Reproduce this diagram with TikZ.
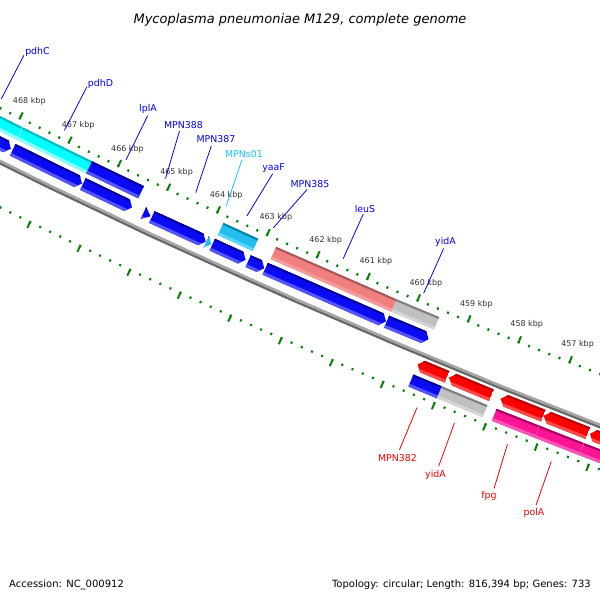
\documentclass[tikz,border=0pt]{standalone}
\usepackage{fontspec}
\setmainfont{DejaVu Sans}

% colours of the bars: main, top edge, bottom edge
\definecolor{bluemain}{RGB}{10,10,245}
\definecolor{bluetop}{RGB}{0,0,150}
\definecolor{bluebot}{RGB}{85,85,255}
\definecolor{cyanmain}{RGB}{0,255,255}
\definecolor{cyantop}{RGB}{0,185,195}
\definecolor{cyanbot}{RGB}{140,255,255}
\definecolor{skymain}{RGB}{35,190,235}
\definecolor{skytop}{RGB}{0,130,170}
\definecolor{skybot}{RGB}{90,215,255}
\definecolor{salmmain}{RGB}{240,128,128}
\definecolor{salmtop}{RGB}{165,90,90}
\definecolor{salmbot}{RGB}{246,155,155}
\definecolor{greymain}{RGB}{192,192,192}
\definecolor{greytop}{RGB}{125,125,125}
\definecolor{greybot}{RGB}{212,212,212}
\definecolor{redmain}{RGB}{255,0,0}
\definecolor{redtop}{RGB}{185,0,0}
\definecolor{redbot}{RGB}{255,75,75}
\definecolor{pinkmain}{RGB}{255,20,147}
\definecolor{pinktop}{RGB}{165,0,100}
\definecolor{pinkbot}{RGB}{255,85,185}
\definecolor{bblight}{RGB}{165,165,165}
\definecolor{bbdark}{RGB}{105,105,105}
\definecolor{tickgreen}{RGB}{10,130,10}
\definecolor{lblblue}{RGB}{0,0,235}
\definecolor{lblsky}{RGB}{20,195,255}
\definecolor{lblred}{RGB}{240,0,0}

% bars: colour, p1, p2 (kbp), r1, r2 (from the centre)
\newcommand{\flatbar}[5]{%
  \fill[#1main] ({ga(#2)}:#4) -- ({ga(#3)}:#4) -- ({ga(#3)}:#5) -- ({ga(#2)}:#5) -- cycle;
  \fill[#1top] ({ga(#2)}:#4) -- ({ga(#3)}:#4) -- ({ga(#3)}:{#4+2}) -- ({ga(#2)}:{#4+2}) -- cycle;
  \fill[#1bot] ({ga(#2)}:{#5-3}) -- ({ga(#3)}:{#5-3}) -- ({ga(#3)}:#5) -- ({ga(#2)}:#5) -- cycle;
}
\newcommand{\fwdarrow}[5]{% tip at p2
  \begin{scope}
    \clip ({ga(#2)}:#4) -- ({ga(#3+0.1)}:#4) -- ({ga(#3)}:{(#4+#5)/2}) -- ({ga(#3+0.1)}:#5) -- ({ga(#2)}:#5) -- cycle;
    \flatbar{#1}{#2}{#3}{#4}{#5}
  \end{scope}
}
\newcommand{\fwdtip}[5]{% head only
  \begin{scope}
    \clip ({ga(#2)}:#4) -- ({ga(#3)}:{(#4+#5)/2}) -- ({ga(#2)}:#5) -- cycle;
    \flatbar{#1}{#2}{#3}{#4}{#5}
  \end{scope}
}
\newcommand{\revarrow}[5]{% tip at p1
  \begin{scope}
    \clip ({ga(#2)}:{(#4+#5)/2}) -- ({ga(#2-0.1)}:#4) -- ({ga(#3)}:#4) -- ({ga(#3)}:#5) -- ({ga(#2-0.1)}:#5) -- cycle;
    \flatbar{#1}{#2}{#3}{#4}{#5}
  \end{scope}
}

\tikzset{
  minortick/.style={tickgreen, line width=2},
  majortick/.style={tickgreen, line width=2},
  kbplbl/.style={font=\fontsize{8}{9}\selectfont, text=black!80, inner sep=0},
  genelbl/.style={font=\fontsize{9.4}{11}\selectfont, inner sep=0, anchor=base},
  lead/.style={line width=0.8},
}

\begin{document}
\begin{tikzpicture}[x=1pt, y=1pt, declare function={ga(\p)=-114.1658-0.440963*(\p-463);}]
  \useasboundingbox (0, 0) rectangle (600, -600);
  \fill[white] (0, 0) rectangle (600, -600);

  \begin{scope}
    \clip (0, 0) rectangle (600, -600);
    \begin{scope}[shift={(3176, 6248)}] % centre of the genome circle
      % tick rings
      \foreach \i in {2270,...,2352} {
        \draw[minortick] ({ga(\i/5)}:7104.6) -- ({ga(\i/5)}:7107);
        \draw[minortick] ({ga(\i/5)}:7193.5) -- ({ga(\i/5)}:7195.8);
      }
      \foreach \k in {454,...,470} {
        \draw[majortick] ({ga(\k)}:7099.5) -- ({ga(\k)}:7107);
        \draw[majortick] ({ga(\k)}:7193.5) -- ({ga(\k)}:7201);
      }
      \foreach \k in {457,...,468}
        \node[kbplbl, xshift=1pt] (kbp\k) at ({ga(\k)}:7087) {\k\ kbp};

      % backbone
      \draw[bbdark, line width=2.4] plot[domain=454:471, samples=18] ({ga(\x)}:7155.3);
      \draw[bblight, line width=2.3] plot[domain=454:471, samples=18] ({ga(\x)}:7152.9);

      % inner strand, coloured track
      \flatbar{cyan}{469.6}{467.88}{7113}{7126.5}
      \flatbar{cyan}{467.88}{466.47}{7113}{7126.5}
      \draw[cyanbot, line width=0.6] ({ga(467.88)}:7113) -- ({ga(467.88)}:7126.5);
      \flatbar{blue}{466.47}{465.42}{7113}{7126.5}
      \flatbar{sky}{463.82}{463.12}{7113}{7126.5}
      \flatbar{salm}{462.76}{460.36}{7113}{7126.5}
      \flatbar{grey}{460.36}{459.52}{7113}{7126.5}

      % inner strand, arrows
      \fwdarrow{blue}{469.6}{467.90}{7131}{7144}
      \fwdarrow{blue}{467.86}{466.46}{7131}{7144}
      \fwdarrow{blue}{466.44}{465.45}{7131}{7144}
      \fwdtip{blue}{465.22}{465.07}{7131}{7144}
      \fwdarrow{blue}{465.05}{463.97}{7131}{7144}
      \fwdtip{sky}{463.96}{463.86}{7131}{7144}
      \fwdarrow{blue}{463.84}{463.17}{7131}{7144}
      \fwdarrow{blue}{463.12}{462.80}{7131}{7144}
      \fwdarrow{blue}{462.78}{460.38}{7131}{7144}
      \fwdarrow{blue}{460.37}{459.54}{7131}{7144}

      % outer strand, arrows
      \revarrow{red}{459.55}{458.97}{7159}{7171.5}
      \revarrow{red}{458.93}{458.10}{7159}{7171.5}
      \revarrow{red}{457.92}{457.09}{7159}{7171.5}
      \revarrow{red}{457.08}{456.22}{7159}{7171.5}
      \revarrow{red}{456.18}{454.5}{7159}{7171.5}

      % outer strand, coloured track
      \flatbar{blue}{459.55}{458.99}{7176}{7189}
      \flatbar{grey}{458.99}{458.10}{7176}{7189}
      \flatbar{pink}{457.92}{457.09}{7176}{7189}
      \flatbar{pink}{457.09}{456.22}{7176}{7189}
      \flatbar{pink}{456.22}{454.5}{7176}{7189}
      \draw[pinkbot, line width=0.6] ({ga(457.09)}:7176) -- ({ga(457.09)}:7189);
      \draw[pinkbot, line width=0.6] ({ga(456.22)}:7176) -- ({ga(456.22)}:7189);

      % leader ends, inner strand
      \coordinate (pdhC-s) at ({ga(468.46)}:7097);   \coordinate (pdhC-e) at ({ga(468.45)}:7048);
      \coordinate (pdhD-s) at ({ga(467.17)}:7097);   \coordinate (pdhD-e) at ({ga(467.15)}:7048);
      \coordinate (lplA-s) at ({ga(465.92)}:7097);   \coordinate (lplA-e) at ({ga(465.91)}:7048);
      \coordinate (MPN388-s) at ({ga(465.12)}:7097); \coordinate (MPN388-e) at ({ga(465.26)}:7048);
      \coordinate (MPN387-s) at ({ga(464.51)}:7097); \coordinate (MPN387-e) at ({ga(464.61)}:7048);
      \coordinate (MPNs01-s) at ({ga(463.90)}:7097); \coordinate (MPNs01-e) at ({ga(463.99)}:7048);
      \coordinate (yaaF-s) at ({ga(463.48)}:7097);   \coordinate (yaaF-e) at ({ga(463.37)}:7048);
      \coordinate (MPN385-s) at ({ga(462.95)}:7097); \coordinate (MPN385-e) at ({ga(462.67)}:7048);
      \coordinate (leuS-s) at ({ga(461.55)}:7097);   \coordinate (leuS-e) at ({ga(461.54)}:7048);
      \coordinate (yidA-s) at ({ga(459.95)}:7097);   \coordinate (yidA-e) at ({ga(459.93)}:7048);
      % leader ends, outer strand
      \coordinate (MPN382-s) at ({ga(459.26)}:7205); \coordinate (MPN382-e) at ({ga(459.26)}:7251);
      \coordinate (yidAo-s) at ({ga(458.53)}:7205);  \coordinate (yidAo-e) at ({ga(458.50)}:7251);
      \coordinate (fpg-s) at ({ga(457.50)}:7205);    \coordinate (fpg-e) at ({ga(457.43)}:7251);
      \coordinate (polA-s) at ({ga(456.65)}:7205);   \coordinate (polA-e) at ({ga(456.62)}:7251);
    \end{scope}
  \end{scope}

  % gene labels, inner strand
  \node[genelbl, lblblue] (pdhC) at (37.5, -54.5) {pdhC};
  \node[genelbl, lblblue] (pdhD) at (100.5, -86.3) {pdhD};
  \node[genelbl, lblblue] (lplA) at (148, -111) {lplA};
  \node[genelbl, lblblue] (MPN388) at (183.5, -128) {MPN388};
  \node[genelbl, lblblue] (MPN387) at (216, -142) {MPN387};
  \node[genelbl, lblsky] (MPNs01) at (244, -157) {MPNs01};
  \node[genelbl, lblblue] (yaaF) at (273.5, -170) {yaaF};
  \node[genelbl, lblblue] (MPN385) at (310, -187) {MPN385};
  \node[genelbl, lblblue] (leuS) at (365, -212) {leuS};
  \node[genelbl, lblblue] (yidA) at (445.5, -244) {yidA};
  \draw[lead, lblblue] (pdhC-s) -- (pdhC-e);
  \draw[lead, lblblue] (pdhD-s) -- (pdhD-e);
  \draw[lead, lblblue] (lplA-s) -- (lplA-e);
  \draw[lead, lblblue] (MPN388-s) -- (MPN388-e);
  \draw[lead, lblblue] (MPN387-s) -- (MPN387-e);
  \draw[lead, lblsky] (MPNs01-s) -- (MPNs01-e);
  \draw[lead, lblblue] (yaaF-s) -- (yaaF-e);
  \draw[lead, lblblue] (MPN385-s) -- (MPN385-e);
  \draw[lead, lblblue] (leuS-s) -- (leuS-e);
  \draw[lead, lblblue] (yidA-s) -- (yidA-e);

  % gene labels, outer strand
  \node[genelbl, lblred] (MPN382) at (397.5, -461.5) {MPN382};
  \node[genelbl, lblred] (yidAo) at (435.5, -477.3) {yidA};
  \node[genelbl, lblred] (fpg) at (489, -498.5) {fpg};
  \node[genelbl, lblred] (polA) at (534, -515) {polA};
  \draw[lead, lblred] (MPN382-s) -- (MPN382-e);
  \draw[lead, lblred] (yidAo-s) -- (yidAo-e);
  \draw[lead, lblred] (fpg-s) -- (fpg-e);
  \draw[lead, lblred] (polA-s) -- (polA-e);

  % title and footer
  \node[anchor=base, inner sep=0, font=\itshape\fontsize{13}{15}\selectfont] (title) at (300, -23) {Mycoplasma pneumoniae M129, complete genome};
  \node[anchor=base west, inner sep=0, font=\fontsize{10}{12}\selectfont] (accession) at (9, -587) {Accession: NC\_000912};
  \node[anchor=base east, inner sep=0, font=\fontsize{10}{12}\selectfont] (topology) at (591, -587) {Topology: circular; Length: 816,394 bp; Genes: 733};
\end{tikzpicture}
\end{document}
